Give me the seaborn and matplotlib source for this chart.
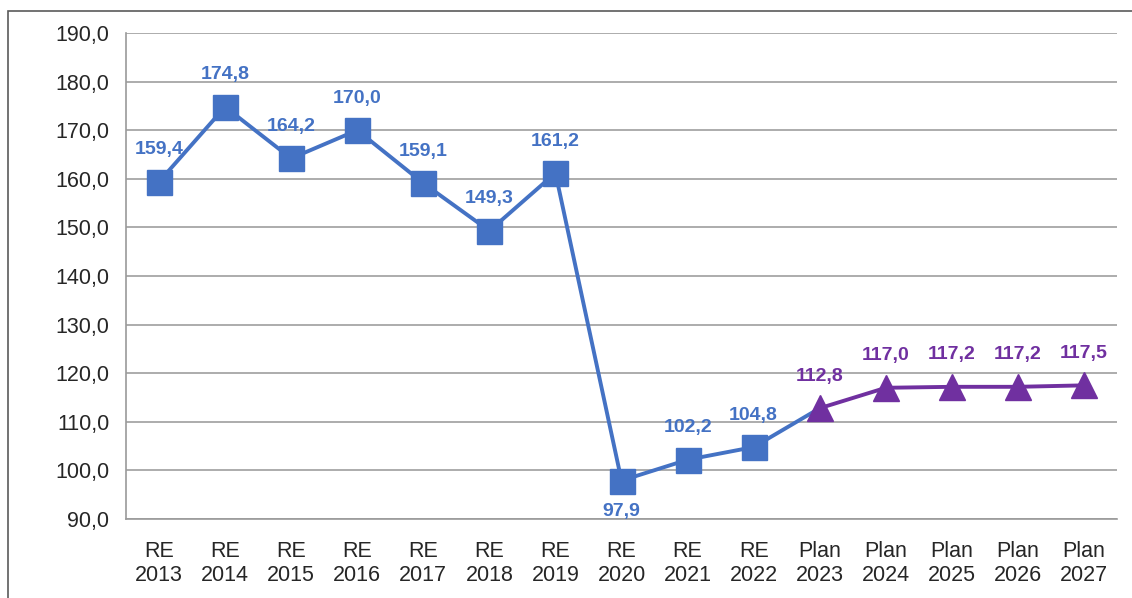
import pandas as pd
import matplotlib
matplotlib.use("Agg")
import matplotlib.pyplot as plt
import matplotlib.patches as mpatches
from matplotlib.ticker import FuncFormatter, FixedLocator
import seaborn as sns

prefixes = ["RE"] * 10 + ["Plan"] * 5
years = list(range(2013, 2028))
values = [159.4, 174.8, 164.2, 170.0, 159.1, 149.3, 161.2, 97.9, 102.2, 104.8,
          112.8, 117.0, 117.2, 117.2, 117.5]

labels = [f"{p}\n{y}" for p, y in zip(prefixes, years)]
df = pd.DataFrame({"pos": range(len(values)), "value": values, "kind": prefixes})

blue = "#4472C4"
purple = "#7030A0"

sns.set_style("white")
plt.rcParams["font.family"] = ["Liberation Sans", "DejaVu Sans"]

fig = plt.figure(figsize=(11.32, 5.98), dpi=100)
ax = fig.add_axes([0.1113, 0.1321, 0.8755, 0.8127])

# outer frame like the exported chart area
fig.patches.append(mpatches.Rectangle((0.007, -0.1), 1.2, 0.9816 + 0.1,
                                      transform=fig.transFigure, fill=False,
                                      edgecolor="#5a5a5a", lw=1.2))

re_part = df[df["kind"] == "RE"]
plan_part = df[df["pos"] >= 10]
blue_line = df[df["pos"] <= 10]

sns.lineplot(data=blue_line, x="pos", y="value", color=blue, lw=2.8, ax=ax, zorder=3)
sns.lineplot(data=plan_part, x="pos", y="value", color=purple, lw=2.8, ax=ax, zorder=3)
ax.plot(re_part["pos"], re_part["value"], ls="none", marker="s", ms=18,
        color=blue, zorder=4)
ax.plot(plan_part["pos"], plan_part["value"], ls="none", marker="^", ms=19,
        color=purple, zorder=4)

for i, v in enumerate(values):
    col = blue if prefixes[i] == "RE" else purple
    dy = -22 if v < 100 else 23
    ax.annotate(f"{v:.1f}".replace(".", ","), (i, v), xytext=(0, dy),
                textcoords="offset points", ha="center", va="center",
                fontsize=14, fontweight="bold", color=col)

ax.set_xlim(-0.5, len(values) - 0.5)
ax.set_ylim(90, 190)
ax.set_yticks(range(90, 191, 10))
ax.yaxis.set_major_formatter(FuncFormatter(lambda v, _: f"{v:.1f}".replace(".", ",")))
ax.set_xticks(range(len(values)))
ax.set_xticklabels(labels)
ax.xaxis.set_minor_locator(FixedLocator([i - 0.5 for i in range(len(values) + 1)]))
ax.tick_params(axis="x", which="major", length=0, pad=16, labelsize=15.5)
ax.tick_params(axis="x", which="minor", length=6, color="#9a9a9a", width=1.2)
ax.tick_params(axis="y", length=6, color="#9a9a9a", width=1.2, pad=6, labelsize=15.5)
ax.set_xlabel("")
ax.set_ylabel("")

ax.grid(axis="y", color="#a6a6a6", lw=1.3)
ax.set_axisbelow(True)
for s in ["top", "right"]:
    ax.spines[s].set_visible(False)
for s in ["left", "bottom"]:
    ax.spines[s].set_color("#9a9a9a")
    ax.spines[s].set_linewidth(1.2)

fig.savefig("out.png", dpi=100)
